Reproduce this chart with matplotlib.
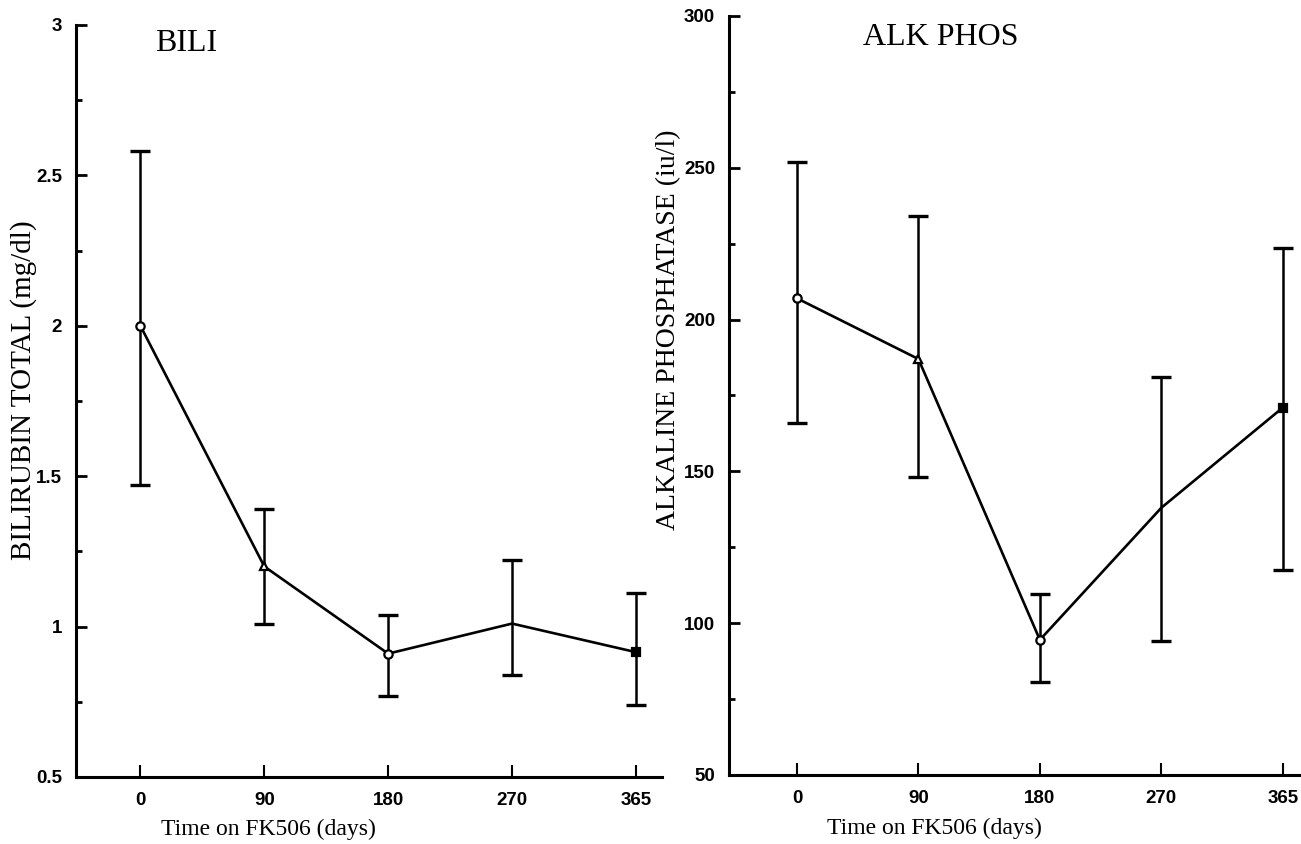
import matplotlib
matplotlib.use("Agg")
import matplotlib.pyplot as plt
import numpy as np

# Visit schedule (days on FK506)
days = ["0", "90", "180", "270", "365"]

# Total bilirubin (mg/dl): mean with upper / lower bar ends
bili_mean = [2.00, 1.20, 0.91, 1.01, 0.915]
bili_high = [2.58, 1.39, 1.04, 1.22, 1.11]
bili_low = [1.47, 1.01, 0.77, 0.84, 0.74]

# Alkaline phosphatase (iu/l): mean with upper / lower bar ends
alk_mean = [207, 187, 94.5, 138, 171]
alk_high = [252, 234, 109.5, 181, 223.5]
alk_low = [166, 148, 80.5, 94, 117.5]

bili_ticks = [0.5, 1, 1.5, 2, 2.5, 3]
alk_ticks = [50, 100, 150, 200, 250, 300]

# marker used at each visit (none drawn at 270 days)
visit_markers = [("o", "white"), ("^", "white"), ("o", "white"), (None, None), ("s", "black")]

serif = ["Liberation Serif", "DejaVu Serif"]
sans = ["Liberation Sans", "DejaVu Sans"]

fig = plt.figure(figsize=(13.01, 8.44), dpi=100)
ax1 = fig.add_axes([0.0584, 0.0794, 0.4504, 0.8910])
ax2 = fig.add_axes([0.5603, 0.0818, 0.4397, 0.8993])


def draw_panel(ax, mean, high, low, ticks, minor_step, xlim, title, title_xy,
               ylabel, ylabel_size, ylabel_xy, xlabel_xy):
    pos = np.arange(len(days))
    mean = np.asarray(mean, float)
    yerr = [mean - np.asarray(low), np.asarray(high) - mean]
    ax.errorbar(pos, mean, yerr=yerr, fmt="none", ecolor="black",
                elinewidth=1.8, capsize=7.5, capthick=2.4, zorder=2)
    ax.plot(pos, mean, color="black", lw=1.9, zorder=3)
    for p, m, (mk, fc) in zip(pos, mean, visit_markers):
        if mk is not None:
            ax.plot(p, m, marker=mk, ms=6, mfc=fc, mec="black", mew=1.6,
                    color="black", zorder=4)

    ax.set_xlim(*xlim)
    ax.set_ylim(ticks[0], ticks[-1])
    ax.set_xticks(pos)
    ax.set_xticklabels(days)
    ax.set_yticks(ticks)
    ax.set_yticklabels([f"{t:g}" for t in ticks])
    ax.set_yticks(np.arange(ticks[0], ticks[-1], minor_step)[1::2], minor=True)

    for s in ("top", "right"):
        ax.spines[s].set_visible(False)
    for s in ("left", "bottom"):
        ax.spines[s].set_linewidth(2.2)

    ax.tick_params(axis="y", which="major", direction="in", length=8, width=2,
                   pad=10, labelsize=13.5)
    ax.tick_params(axis="y", which="minor", direction="in", length=4, width=2)
    ax.tick_params(axis="x", which="major", direction="in", length=9, width=1.5,
                   pad=11, labelsize=13.5)
    for lab in ax.get_xticklabels() + ax.get_yticklabels():
        lab.set_family(sans)
        lab.set_fontweight("bold")

    ax.text(*title_xy, title, transform=ax.transAxes, ha="center", va="center",
            family=serif, fontsize=23)
    ax.set_ylabel(ylabel, family=serif, fontsize=ylabel_size)
    ax.yaxis.set_label_coords(*ylabel_xy)
    ax.set_xlabel("Time on FK506 (days)", family=serif, fontsize=17)
    ax.xaxis.set_label_coords(*xlabel_xy)


draw_panel(ax1, bili_mean, bili_high, bili_low, bili_ticks, 0.25, (-0.52, 4.21),
           "BILI", (0.188, 0.976), "BILIRUBIN TOTAL (mg/dl)", 21,
           (-0.066, 0.515), (0.328, -0.055))
draw_panel(ax2, alk_mean, alk_high, alk_low, alk_ticks, 25, (-0.56, 4.15),
           "ALK PHOS", (0.371, 0.971), "ALKALINE PHOSPHATASE (iu/l)", 20,
           (-0.084, 0.586), (0.36, -0.057))

fig.savefig("out.png", dpi=100, facecolor="white")
